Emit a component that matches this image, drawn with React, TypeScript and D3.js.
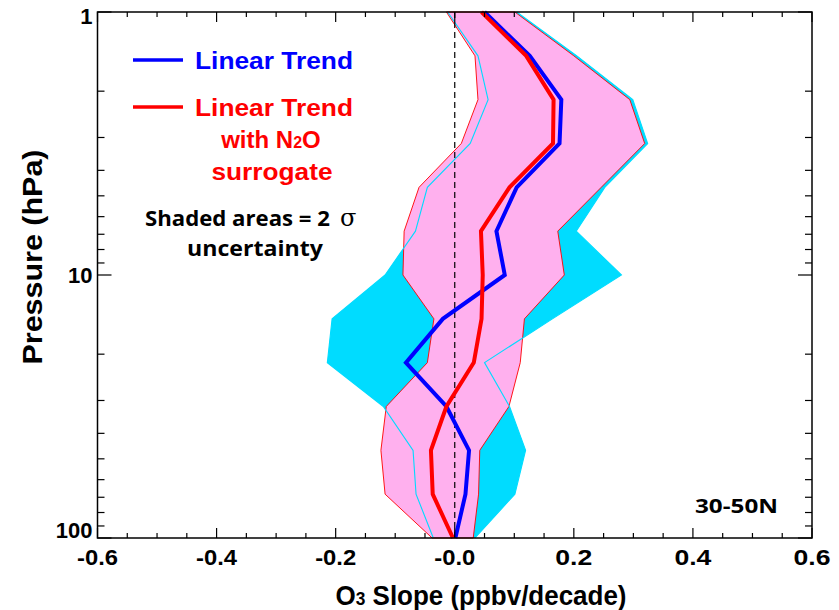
import React from 'react';
import * as d3 from 'd3';

// pressure levels (hPa), six per decade
const levels = [1, 1.468, 2.154, 3.162, 4.642, 6.813, 10, 14.68, 21.54, 31.62, 46.42, 68.13, 100];

// O3 slope (ppbv/decade)
const linearTrend = [0.05, 0.126, 0.179, 0.176, 0.104, 0.07, 0.084, -0.02, -0.082, -0.014, 0.024, 0.018, 0.001];
const n2oTrend = [0.045, 0.12, 0.166, 0.165, 0.092, 0.044, 0.047, 0.045, 0.032, -0.014, -0.04, -0.037, -0.003];

// 2 sigma envelopes
const linearLow = [-0.012, 0.039, 0.056, 0.026, -0.046, -0.066, -0.117, -0.206, -0.214, -0.12, -0.07, -0.065, -0.036];
const linearHigh = [0.104, 0.205, 0.299, 0.324, 0.252, 0.204, 0.28, 0.164, 0.05, 0.092, 0.119, 0.101, 0.034];
const n2oLow = [-0.014, 0.034, 0.039, 0.011, -0.06, -0.085, -0.087, -0.035, -0.046, -0.115, -0.124, -0.117, -0.038];
const n2oHigh = [0.101, 0.2, 0.294, 0.319, 0.246, 0.173, 0.184, 0.117, 0.11, 0.091, 0.042, 0.04, 0.031];

const xTickValues = [-0.6, -0.4, -0.2, 0, 0.2, 0.4, 0.6];
const xTickLabels = ['-0.6', '-0.4', '-0.2', '-0.0', '0.2', '0.4', '0.6'];
const yMajor = [1, 10, 100];
const yMinor = [2, 3, 4, 5, 6, 7, 8, 9, 20, 30, 40, 50, 60, 70, 80, 90];

const CYAN = '#00dcff';
const PINK = '#ffb0ee';
const helv = '"Liberation Sans", Arial, sans-serif';
const myriad = '"Open Sans", "Noto Sans", sans-serif';

export default function App() {
  const left = 97.5, right = 812, top = 12, bottom = 538;

  const x = d3.scaleLinear().domain([-0.6, 0.6]).range([left, right]);
  const y = d3.scaleLog().domain([1, 100]).range([top, bottom]);

  const lineGen = (vals: number[]) =>
    d3.line<number>().x((v) => x(v)).y((_, i) => y(levels[i]))(vals) || '';

  const bandGen = (lo: number[], hi: number[]) =>
    d3.area<number>()
      .y((_, i) => y(levels[i]))
      .x0((_, i) => x(lo[i]))
      .x1((_, i) => x(hi[i]))(levels) || '';

  const xMinor = d3.range(-12, 13).map((k) => k * 0.05);

  return (
    <svg width={839} height={610} style={{ display: 'block', position: 'absolute', left: 0, top: 0 }}>
      <rect width={839} height={610} fill="white" />

      {/* shaded uncertainty */}
      <path d={bandGen(linearLow, linearHigh)} fill={CYAN} />
      <path d={bandGen(n2oLow, n2oHigh)} fill={PINK} stroke="#ff0000" strokeWidth={0.9} />
      <path d={lineGen(linearLow)} fill="none" stroke={CYAN} strokeWidth={1.1} />
      <path d={lineGen(linearHigh)} fill="none" stroke={CYAN} strokeWidth={1.1} />

      {/* zero line */}
      <line x1={x(0)} x2={x(0)} y1={top} y2={bottom} stroke="black" strokeWidth={1.2} strokeDasharray="6,4" />

      <path d={lineGen(linearTrend)} fill="none" stroke="#0000ff" strokeWidth={4} strokeLinejoin="miter" />
      <path d={lineGen(n2oTrend)} fill="none" stroke="#ff0000" strokeWidth={4} strokeLinejoin="miter" />

      {/* frame */}
      <rect x={left} y={top} width={right - left} height={bottom - top} fill="none" stroke="black" strokeWidth={1.5} />

      {xMinor.map((v, i) => {
        const len = i % 4 === 0 ? 10 : 5;
        return (
          <g key={'xt' + i}>
            <line x1={x(v)} x2={x(v)} y1={bottom} y2={bottom - len} stroke="black" strokeWidth={1.2} />
            <line x1={x(v)} x2={x(v)} y1={top} y2={top + len} stroke="black" strokeWidth={1.2} />
          </g>
        );
      })}
      {yMajor.map((v) => (
        <g key={'ym' + v}>
          <line x1={left} x2={left + 14} y1={y(v)} y2={y(v)} stroke="black" strokeWidth={1.2} />
          <line x1={right} x2={right - 14} y1={y(v)} y2={y(v)} stroke="black" strokeWidth={1.2} />
        </g>
      ))}
      {yMinor.map((v) => (
        <g key={'yn' + v}>
          <line x1={left} x2={left + 7} y1={y(v)} y2={y(v)} stroke="black" strokeWidth={1.2} />
          <line x1={right} x2={right - 7} y1={y(v)} y2={y(v)} stroke="black" strokeWidth={1.2} />
        </g>
      ))}

      {/* tick labels */}
      {xTickValues.map((v, i) => (
        <text key={'xl' + v} x={x(v)} y={565} textAnchor="middle" fontFamily={helv} fontWeight="bold" fontSize={22}
          textLength={xTickLabels[i].length === 4 ? 41 : 37} lengthAdjust="spacingAndGlyphs">
          {xTickLabels[i]}
        </text>
      ))}
      {yMajor.map((v) => (
        <text key={'yl' + v} x={left - 5} y={Math.min(Math.max(y(v) + 8, top + 12), bottom)} textAnchor="end"
          fontFamily={helv} fontWeight="bold" fontSize={22}>
          {v}
        </text>
      ))}

      {/* axis titles */}
      <text x={481} y={605} textAnchor="middle" fontFamily={helv} fontWeight="bold" fontSize={27}
        textLength={291} lengthAdjust="spacingAndGlyphs">
        O<tspan fontSize={18}>3</tspan> Slope (ppbv/decade)
      </text>
      <text transform="translate(42,257) rotate(-90)" textAnchor="middle" fontFamily={helv} fontWeight="bold" fontSize={27}
        textLength={215} lengthAdjust="spacingAndGlyphs">
        Pressure (hPa)
      </text>

      {/* legend */}
      <line x1={133} x2={183} y1={60} y2={60} stroke="#0000ff" strokeWidth={3.5} />
      <text x={195} y={69} fontFamily={helv} fontWeight="bold" fontSize={24} fill="#0000ff" textLength={158} lengthAdjust="spacingAndGlyphs">
        Linear Trend
      </text>
      <line x1={133} x2={183} y1={107} y2={107} stroke="#ff0000" strokeWidth={3.5} />
      <text x={195} y={116} fontFamily={helv} fontWeight="bold" fontSize={24} fill="#ff0000" textLength={158} lengthAdjust="spacingAndGlyphs">
        Linear Trend
      </text>
      <text x={271} y={148} textAnchor="middle" fontFamily={helv} fontWeight="bold" fontSize={24} fill="#ff0000">
        with N<tspan fontSize={16}>2</tspan>O
      </text>
      <text x={272} y={180} textAnchor="middle" fontFamily={helv} fontWeight="bold" fontSize={24} fill="#ff0000"
        textLength={121} lengthAdjust="spacingAndGlyphs">
        surrogate
      </text>
      <text x={145} y={226} fontFamily={myriad} fontWeight="bold" fontSize={22} textLength={185} lengthAdjust="spacingAndGlyphs">
        Shaded areas = 2
      </text>
      <text x={340} y={226} fontFamily="'DejaVu Serif', serif" fontSize={24}>
        σ
      </text>
      <text x={255} y={256} textAnchor="middle" fontFamily={myriad} fontWeight="bold" fontSize={22}
        textLength={136} lengthAdjust="spacingAndGlyphs">
        uncertainty
      </text>

      <text x={695} y={513} fontFamily={myriad} fontWeight="bold" fontSize={20} textLength={83} lengthAdjust="spacingAndGlyphs">
        30-50N
      </text>
    </svg>
  );
}
